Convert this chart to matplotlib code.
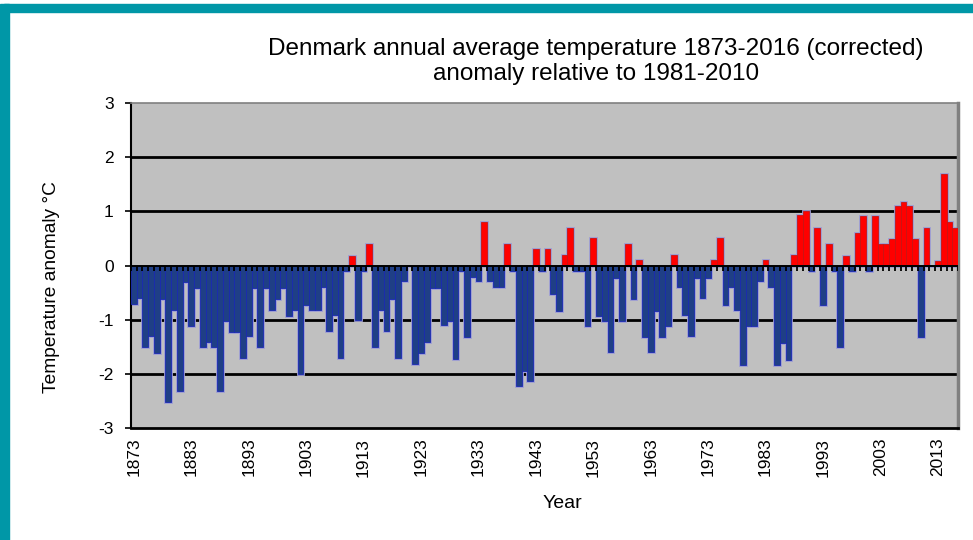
import matplotlib
matplotlib.use('Agg')
import matplotlib.pyplot as plt
from matplotlib.patches import Rectangle
import numpy as np

plt.rcParams['font.family'] = ['Liberation Sans', 'DejaVu Sans']
plt.rcParams['axes.unicode_minus'] = False

# ---------------- data ----------------
years = list(range(1873, 2017))
anomaly = [
    -0.71, -0.60, -1.51, -1.31, -1.61, -0.61, -2.52, -0.83, -2.31, -0.30,   # 1873-1882
    -1.11, -0.41, -1.51, -1.42, -1.51, -2.32, -1.02, -1.22, -1.22, -1.71,   # 1883-1892
    -1.31, -0.41, -1.51, -0.41, -0.83, -0.62, -0.41, -0.93, -0.83, -2.01,   # 1893-1902
    -0.72, -0.83, -0.83, -0.40, -1.21, -0.92, -1.71, -0.10, 0.18, -1.01,    # 1903-1912
    -0.10, 0.39, -1.51, -0.83, -1.21, -0.61, -1.71, -0.29, 0.00, -1.81,     # 1913-1922
    -1.61, -1.42, -0.41, -0.41, -1.10, -1.02, -1.72, -0.10, -1.32, -0.22,   # 1923-1932
    -0.28, 0.80, -0.28, -0.40, -0.40, 0.40, -0.10, -2.22, -1.95, -2.13,     # 1933-1942
    0.30, -0.10, 0.31, -0.52, -0.84, 0.19, 0.70, -0.10, -0.10, -1.12,       # 1943-1952
    0.50, -0.93, -1.02, -1.60, -0.23, -1.02, 0.40, -0.61, 0.10, -1.32,      # 1953-1962
    -1.60, -0.84, -1.32, -1.12, 0.19, -0.40, -0.92, -1.31, -0.23, -0.60,    # 1963-1972
    -0.23, 0.10, 0.50, -0.73, -0.39, -0.83, -1.83, -1.11, -1.11, -0.29,     # 1973-1982
    0.10, -0.39, -1.83, -1.43, -1.74, 0.19, 0.93, 1.00, -0.10, 0.69,        # 1983-1992
    -0.72, 0.39, -0.10, -1.51, 0.18, -0.10, 0.60, 0.91, -0.10, 0.91,        # 1993-2002
    0.39, 0.39, 0.49, 1.09, 1.18, 1.09, 0.49, -1.32, 0.69, 0.00,            # 2003-2012
    0.09, 1.69, 0.80, 0.69                                                  # 2013-2016
]
title_lines = ["Denmark annual average temperature 1873-2016 (corrected)",
               "anomaly relative to 1981-2010"]
y_label = "Temperature anomaly \u00b0C"
x_label = "Year"
y_ticks = [-3, -2, -1, 0, 1, 2, 3]
x_tick_years = list(range(1873, 2017, 10))

# ---------------- figure ----------------
W, H = 973, 540
fig = plt.figure(figsize=(W / 100, H / 100), dpi=100)
fig.patch.set_facecolor('white')


def fx(px):
    return px / W


def fy(py):
    return 1 - py / H


ax = fig.add_axes([fx(131), fy(428), fx(958) - fx(131), fy(103) - fy(428)])
ax.set_facecolor('#C0C0C0')

yrs = np.array(years)
vals = np.array(anomaly)
face = np.where(vals > 0, '#FF0000', '#1F3F86')
edge = np.where(vals > 0, '#C81414', '#1A2AB0')

# halo layer then bars
ax.bar(yrs, vals, width=1.0, color='none', edgecolor='#9C9CD4', linewidth=2.0, zorder=2)
ax.bar(yrs, vals, width=1.0, color=face, edgecolor=edge, linewidth=0.6, zorder=3)

ax.set_xlim(yrs[0] - 0.5, yrs[-1] + 0.5)
ax.set_ylim(-3, 3)

for g in [-2, -1, 1, 2]:
    ax.axhline(g, color='black', lw=2.0, zorder=1)
ax.axhline(0, color='black', lw=1.4, zorder=5)
bounds = np.append(yrs - 0.5, yrs[-1] + 0.5)
ax.vlines(bounds, -0.1, 0, color='black', lw=1.3, zorder=5)

ax.set_yticks(y_ticks)
ax.set_yticklabels([str(t) for t in y_ticks])
ax.tick_params(axis='y', length=4.5, width=1.2, pad=8, labelsize=12.5, colors='black')
ax.set_xticks(x_tick_years)
ax.set_xticklabels([str(y) for y in x_tick_years], rotation=90)
ax.tick_params(axis='x', length=0, pad=7, labelsize=12.5)

ax.spines['left'].set_color('black')
ax.spines['left'].set_linewidth(1.5)
ax.spines['bottom'].set_color('black')
ax.spines['bottom'].set_linewidth(2.0)
ax.spines['top'].set_color('#808080')
ax.spines['top'].set_linewidth(1.2)
ax.spines['right'].set_color('#808080')
ax.spines['right'].set_linewidth(2.5)

fig.text(fx(52), fy(287), y_label, rotation=90, ha='center', va='center', fontsize=13.8)
fig.text(fx(562), fy(503), x_label, ha='center', va='center', fontsize=14)
fig.text(fx(596), fy(55), title_lines[0], ha='center', va='baseline', fontsize=17.5)
fig.text(fx(596), fy(80), title_lines[1], ha='center', va='baseline', fontsize=17.5)

# teal frame
teal = '#0097A7'
fig.add_artist(Rectangle((fx(4), fy(12)), 1 - fx(4), fy(4) - fy(12),
                         transform=fig.transFigure, color=teal, zorder=10))
fig.add_artist(Rectangle((0, 0), fx(9), fy(4),
                         transform=fig.transFigure, color=teal, zorder=10))

fig.savefig('out.png', dpi=100)
